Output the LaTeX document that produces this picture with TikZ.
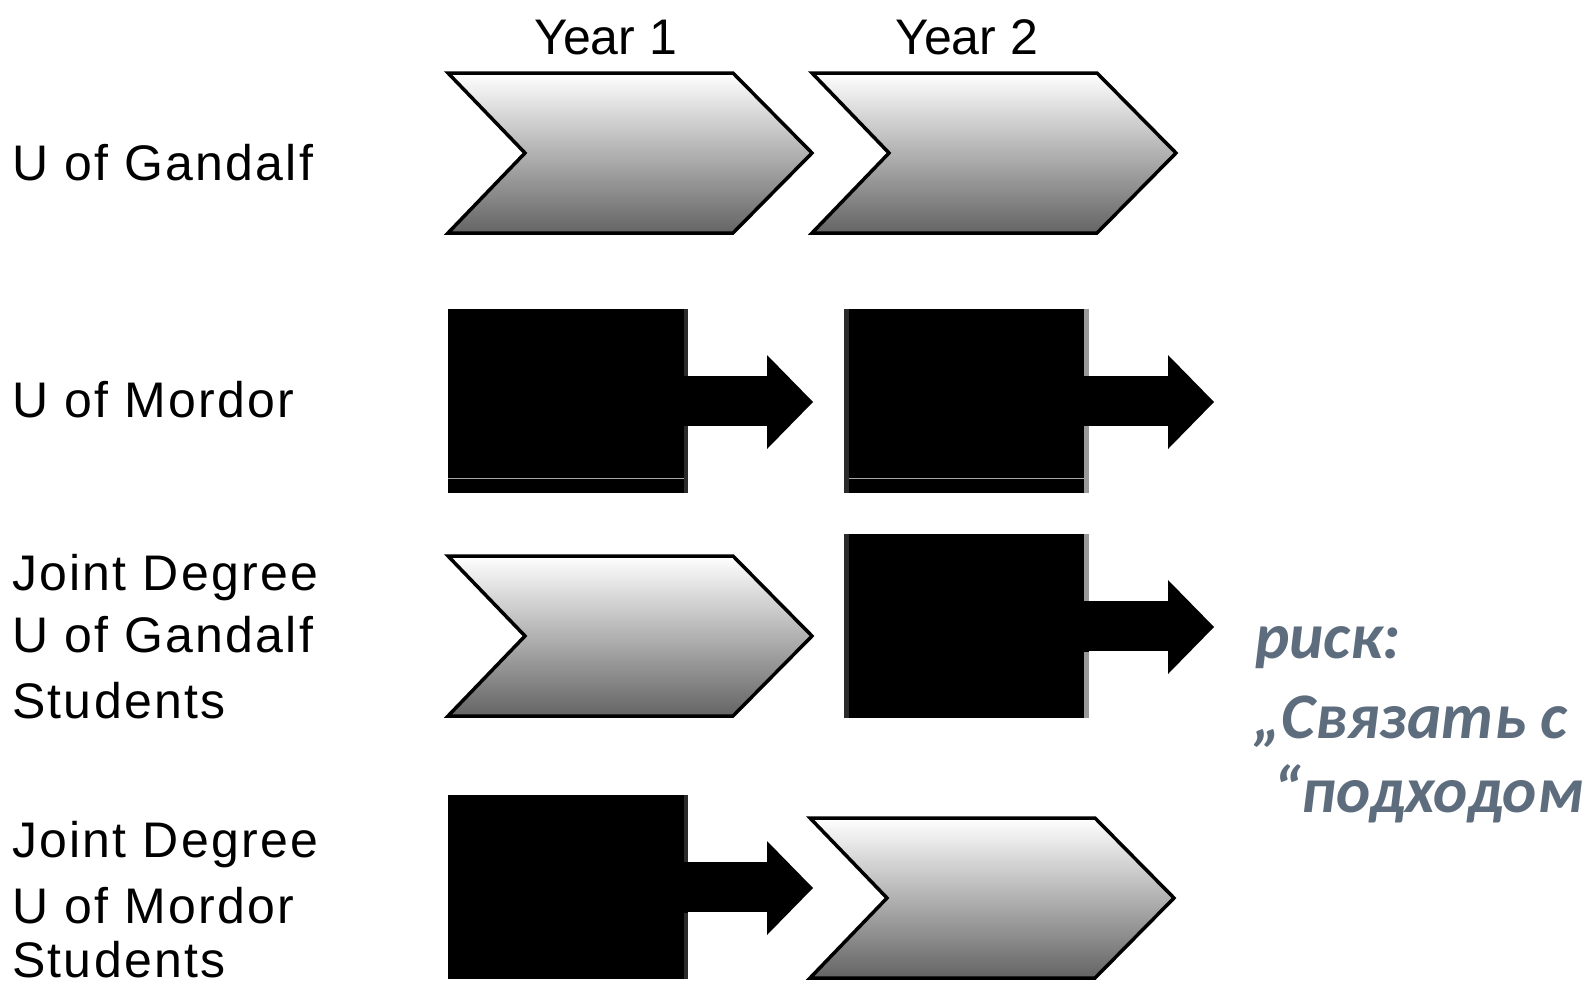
\documentclass[tikz,border=0pt]{standalone}
\usepackage{fontspec}
\setmainfont{Liberation Sans}
\newfontfamily\lblfont[LetterSpace=4.5]{Liberation Sans}
\newfontfamily\rufont{Carlito}
\definecolor{rucol}{RGB}{93,109,126}
\definecolor{chevbot}{RGB}{100,100,100}
\newcommand\chevron[3]{%
  \draw[chevstyle] (#1,#2) coordinate (#3) -- ++(285,0) -- ++(79,80) -- ++(-79,80) -- ++(-285,0) -- ++(77,-80) -- cycle;}
\newcommand\boxarrow[4]{%
  \fill[black] (#1,#2) coordinate (#4) rectangle ++(#3,184);
  \fill[black] ([xshift=-1pt]#1+#3,#2+67) rectangle ++(80,50);
  \fill[black] (#1+#3+79,#2+46) -- (#1+#3+125,#2+93) -- (#1+#3+79,#2+140) -- cycle;}
\begin{document}
\begin{tikzpicture}[x=1pt,y=-1pt,
  chevstyle/.style={draw=black, line width=3.5pt, line join=miter, top color=white, bottom color=chevbot},
  lbl/.style={anchor=base west, inner sep=0pt, font=\lblfont\fontsize{50}{60}\selectfont},
  ylbl/.style={anchor=base west, inner sep=0pt, font=\fontsize{50}{60}\selectfont},
  rutxt/.style={anchor=base west, inner sep=0pt, text=rucol, font=\rufont\bfseries\itshape\fontsize{65}{78}\selectfont}]
\useasboundingbox[fill=white] (0,0) rectangle (1585,985);

% column headings
\node[ylbl] (y1) at (534,54) {Year 1};
\node[ylbl] (y2) at (895,54) {Year 2};

% row labels
\node[lbl] (l1) at (12,180) {U of Gandalf};
\node[lbl] (l2) at (12,417) {U of Mordor};
\node[lbl] (l3a) at (12,590) {Joint Degree};
\node[lbl] (l3b) at (12,652) {U of Gandalf};
\node[lbl] (l3c) at (12,718) {Students};
\node[lbl] (l4a) at (12,857) {Joint Degree};
\node[lbl] (l4b) at (12,923) {U of Mordor};
\node[lbl] (l4c) at (12,977) {Students};

% row 1
\chevron{448}{73}{c11}
\chevron{812}{73}{c12}

% row 2
\boxarrow{448}{309}{240}{b21}
\boxarrow{844}{309}{245}{b22}
\draw[gray!70, line width=1pt] (448,478) -- (688,478);
\draw[gray!70, line width=1pt] (844,478) -- (1089,478);
\fill[black!83] (684,309) rectangle (688,376);
\fill[black!83] (684,426) rectangle (688,493);
\fill[black!83] (844,309) rectangle (849,493);
\fill[black!40] (1084,309) rectangle (1089,376);
\fill[black!40] (1084,426) rectangle (1089,493);

% row 3
\chevron{448}{556}{c31}
\boxarrow{844}{534}{245}{b32}
\fill[black!83] (844,534) rectangle (849,718);
\fill[black!40] (1084,534) rectangle (1089,601);
\fill[black!40] (1084,652) rectangle (1089,718);

% row 4
\boxarrow{448}{795}{240}{b41}
\fill[black!83] (684,795) rectangle (688,862);
\fill[black!83] (684,913) rectangle (688,979);
\chevron{810}{818}{c42}

% annotation
\node[rutxt] (r1) at (1255,658) {риск:};
\node[rutxt] (r2) at (1253,738) {„Связать с};
\node[rutxt] (r3) at (1273,812) {“подходом};
\end{tikzpicture}
\end{document}
